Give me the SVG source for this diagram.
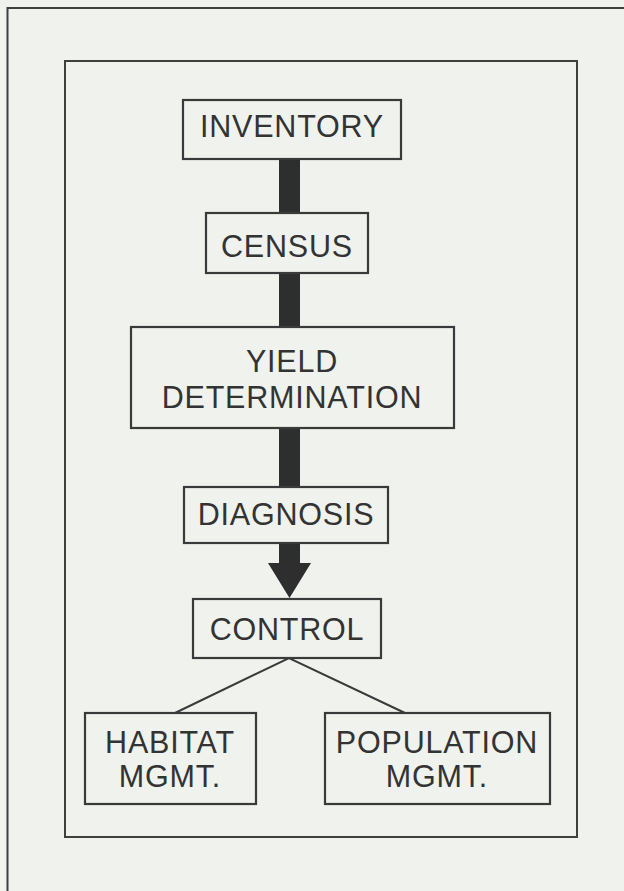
<svg xmlns="http://www.w3.org/2000/svg" width="624" height="891" viewBox="0 0 624 891">
<style>
.box{fill:#eff2ed;stroke:#3a3a3a;stroke-width:2.2}
.frame{fill:none;stroke:#3f3f3f;stroke-width:2}
.t{font-family:"Liberation Sans",Arial,sans-serif;font-size:30.5px;fill:#333;text-anchor:middle;letter-spacing:0.8px}
.bar{fill:#2e2e2e}
.ln{stroke:#3a3a3a;stroke-width:2;fill:none}
</style>
<rect x="0" y="0" width="624" height="891" fill="#eff2ed"/>
<path class="frame" d="M7.5,891 V8 H630"/>
<rect class="frame" x="65" y="61" width="512" height="776"/>
<g id="connectors">
<rect class="bar" x="279" y="158" width="21" height="56"/>
<rect class="bar" x="279" y="272" width="21" height="56"/>
<rect class="bar" x="279" y="427" width="21" height="61"/>
<path class="bar" d="M279,542 H300 V563 H311 L289.5,598 L268,563 H279 Z"/>
<path class="ln" d="M175,713 L289,658 L405,713"/>
</g>
<g id="inventory"><rect class="box" x="183" y="100" width="218" height="59"/><text class="t" x="292" y="137">INVENTORY</text></g>
<g id="census"><rect class="box" x="206" y="213" width="162" height="60"/><text class="t" x="287" y="257">CENSUS</text></g>
<g id="yield"><rect class="box" x="131" y="327" width="323" height="101"/><text class="t" x="292" y="372">YIELD</text><text class="t" x="292" y="408">DETERMINATION</text></g>
<g id="diagnosis"><rect class="box" x="184" y="487" width="204" height="56"/><text class="t" x="286" y="525">DIAGNOSIS</text></g>
<g id="control"><rect class="box" x="193" y="599" width="188" height="59"/><text class="t" x="287" y="640">CONTROL</text></g>
<g id="habitat"><rect class="box" x="85" y="713" width="171" height="91"/><text class="t" x="170" y="753">HABITAT</text><text class="t" x="170" y="787">MGMT.</text></g>
<g id="population"><rect class="box" x="325" y="713" width="225" height="91"/><text class="t" x="437" y="753">POPULATION</text><text class="t" x="437" y="787">MGMT.</text></g>
</svg>
